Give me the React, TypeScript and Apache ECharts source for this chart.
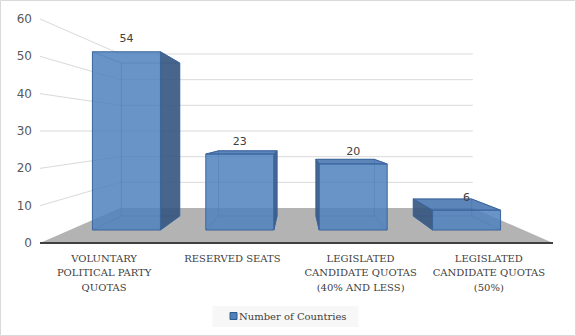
import React, { useEffect, useRef } from "react";
import * as echarts from "echarts";

const categories = [
  "VOLUNTARY\nPOLITICAL PARTY\nQUOTAS",
  "RESERVED SEATS",
  "LEGISLATED\nCANDIDATE QUOTAS\n(40% AND LESS)",
  "LEGISLATED\nCANDIDATE QUOTAS\n(50%)",
];
const values = [54, 23, 20, 6];
const seriesName = "Number of Countries";
const gridValues = [10, 20, 30, 40, 50, 60];
const yMin = 0;
const yMax = 60;
const yInterval = 10;
const eyeLevel = 30;

// perspective depth factors
const S_FRONT = 0.884;
const S_BACK = 0.759;
const S_WALL = 0.6875;
const BAR_W = 0.6;

const EDGE = "#3a659c";
const FRONT_FILL = "rgba(79,129,189,0.85)";
const SIDE_FILL = "rgba(52,84,126,0.9)";
const TOP_FILL = "rgba(70,116,176,0.88)";
const HIDDEN = "rgba(58,101,156,0.55)";

function makeProj(params: any, api: any) {
  const cs = params.coordSys;
  const vpX = cs.x + cs.width / 2;
  const vpY = api.coord([0, eyeLevel])[1];
  return (x: number, y: number, s: number) => [vpX + (x - vpX) * s, vpY + (y - vpY) * s];
}

export default function App() {
  const ref = useRef<HTMLDivElement>(null);
  useEffect(() => {
    if (!ref.current) return;
    const chart = echarts.init(ref.current, undefined, { renderer: "svg" });

    const renderGrid = (params: any, api: any) => {
      const proj = makeProj(params, api);
      const cs = params.coordSys;
      const L = cs.x;
      const R = cs.x + cs.width;
      const y = api.coord([0, api.value(1)])[1];
      const backL = proj(L, y, S_WALL);
      const backR = proj(R, y, S_WALL);
      const st = { stroke: "#d9d9d9", lineWidth: 1, fill: "none" };
      return {
        type: "group",
        children: [
          { type: "line", shape: { x1: L, y1: y, x2: backL[0], y2: backL[1] }, style: st },
          { type: "line", shape: { x1: backL[0], y1: backL[1], x2: backR[0], y2: backR[1] }, style: st },
        ],
      };
    };

    const renderFloor = (params: any, api: any) => {
      const proj = makeProj(params, api);
      const cs = params.coordSys;
      const L = cs.x;
      const R = cs.x + cs.width;
      const y0 = api.coord([0, yMin])[1];
      const bl = proj(L, y0, S_WALL);
      const br = proj(R, y0, S_WALL);
      return {
        type: "group",
        children: [
          {
            type: "polygon",
            shape: { points: [[L, y0], [R, y0], br, bl] },
            style: { fill: "#b3b3b3" },
          },
          {
            type: "line",
            shape: { x1: L, y1: y0, x2: R, y2: y0 },
            style: { stroke: "#404040", lineWidth: 2.2 },
          },
        ],
      };
    };

    const renderBar = (params: any, api: any) => {
      const proj = makeProj(params, api);
      const idx = api.value(0);
      const v = api.value(1);
      const c0 = api.coord([idx, yMin]);
      const cv = api.coord([idx, v]);
      const band = api.size([1, 0])[0];
      const half = (band * BAR_W) / 2;
      const xl = c0[0] - half;
      const xr = c0[0] + half;
      const yb = c0[1];
      const yt = cv[1];
      const F = { lt: proj(xl, yt, S_FRONT), rt: proj(xr, yt, S_FRONT), rb: proj(xr, yb, S_FRONT), lb: proj(xl, yb, S_FRONT) };
      const B = { lt: proj(xl, yt, S_BACK), rt: proj(xr, yt, S_BACK), rb: proj(xr, yb, S_BACK), lb: proj(xl, yb, S_BACK) };
      const cs = params.coordSys;
      const vpX = cs.x + cs.width / 2;
      const vpY = api.coord([0, eyeLevel])[1];
      const hs = { stroke: HIDDEN, lineWidth: 1, fill: "none" };
      const line = (a: number[], b: number[], style: any) => ({
        type: "line",
        shape: { x1: a[0], y1: a[1], x2: b[0], y2: b[1] },
        style,
      });
      const children: any[] = [
        { type: "polygon", shape: { points: [B.lt, B.rt, B.rb, B.lb] }, style: hs },
        line(F.lt, B.lt, hs),
        line(F.rt, B.rt, hs),
        line(F.rb, B.rb, hs),
        line(F.lb, B.lb, hs),
      ];
      const es = { stroke: EDGE, lineWidth: 1 };
      if (xr < vpX) {
        children.push({ type: "polygon", shape: { points: [F.rt, B.rt, B.rb, F.rb] }, style: { fill: SIDE_FILL, ...es } });
      }
      if (xl > vpX) {
        children.push({ type: "polygon", shape: { points: [F.lt, B.lt, B.lb, F.lb] }, style: { fill: SIDE_FILL, ...es } });
      }
      if (yt > vpY) {
        children.push({ type: "polygon", shape: { points: [F.lt, F.rt, B.rt, B.lt] }, style: { fill: TOP_FILL, ...es } });
      }
      children.push({ type: "polygon", shape: { points: [F.lt, F.rt, F.rb, F.lb] }, style: { fill: FRONT_FILL, ...es } });
      children.push({
        type: "text",
        x: (F.lt[0] + F.rt[0]) / 2,
        y: F.lt[1] - 13,
        style: {
          text: String(v),
          align: "center",
          verticalAlign: "middle",
          fill: "#404040",
          fontSize: 11,
          fontFamily: "DejaVu Sans",
        },
      });
      return { type: "group", children };
    };

    chart.setOption({
      animation: false,
      backgroundColor: "#ffffff",
      grid: { left: 40, right: 23, top: 19, bottom: 93, containLabel: false },
      xAxis: {
        type: "category",
        data: categories,
        axisLine: { show: false },
        axisTick: { show: false },
        splitLine: { show: false },
        axisLabel: {
          interval: 0,
          margin: 8,
          color: "#404040",
          fontFamily: "DejaVu Serif",
          fontSize: 10,
          lineHeight: 14.5,
        },
      },
      yAxis: {
        type: "value",
        min: yMin,
        max: yMax,
        interval: yInterval,
        axisLine: { show: false },
        axisTick: { show: false },
        splitLine: { show: false },
        axisLabel: { margin: 8, color: "#595959", fontFamily: "DejaVu Sans", fontSize: 12 },
      },
      legend: {
        data: [seriesName],
        left: "center",
        top: 306,
        icon: "rect",
        itemWidth: 7,
        itemHeight: 7,
        backgroundColor: "#f7f7f7",
        padding: [5, 12, 6, 17],
        itemStyle: { color: "#4f81bd", borderColor: "#2e5c8a", borderWidth: 1 },
        textStyle: { color: "#404040", fontFamily: "DejaVu Serif", fontSize: 10, padding: [0, 0, 0, -3] },
      },
      graphic: [
        {
          type: "rect",
          shape: { x: 0.5, y: 0.5, width: 575, height: 335 },
          style: { fill: "none", stroke: "#d9d9d9", lineWidth: 1 },
          silent: true,
        },
      ],
      series: [
        {
          type: "custom",
          name: "grid",
          renderItem: renderGrid,
          data: gridValues.map((g) => [0, g]),
          silent: true,
          z: 1,
        },
        {
          type: "custom",
          name: "floor",
          renderItem: renderFloor,
          data: [[0, yMin]],
          silent: true,
          z: 2,
        },
        {
          type: "custom",
          name: seriesName,
          renderItem: renderBar,
          data: values.map((v, i) => [i, v]),
          itemStyle: { color: "#4f81bd" },
          z: 3,
        },
      ],
    });
    return () => chart.dispose();
  }, []);
  return (
    <div
      ref={ref}
      style={{ position: "fixed", left: 0, top: 0, width: 576, height: 336 }}
    />
  );
}
